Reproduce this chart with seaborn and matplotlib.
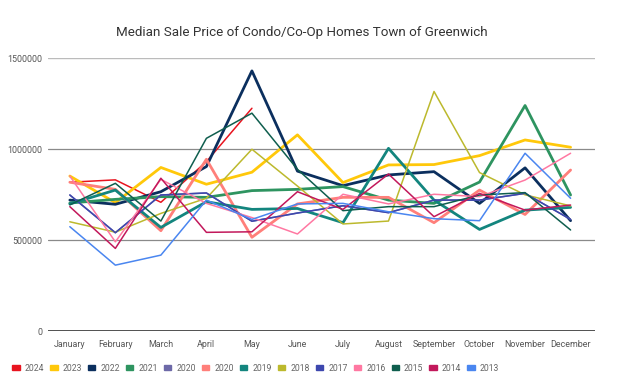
import pandas as pd
import matplotlib
matplotlib.use('Agg')
import matplotlib.pyplot as plt
import matplotlib.patches as mpatches
import seaborn as sns

# data
months = ['January', 'February', 'March', 'April', 'May', 'June', 'July',
          'August', 'September', 'October', 'November', 'December']

y2024 = [819000, 832000, 709000, 932000, 1225000]
y2023 = [853000, 707000, 900000, 808000, 874000, 1079000, 817000, 914000, 916000, 965000, 1051000, 1011000]
y2022 = [721000, 698000, 767000, 905000, 1430000, 880000, 800000, 859000, 877000, 703000, 898000, 608000]
y2021 = [705000, 725000, 740000, 736000, 773000, 780000, 795000, 721000, 703000, 820000, 1240000, 749000]
y2020a = [749000, 542000, 749000, 760000, 605000, 650000, 690000, 652000, 721000, 721000, 758000, 615000]
y2020b = [819000, 780000, 553000, 945000, 517000, 700000, 736000, 736000, 597000, 776000, 642000, 886000]
y2019 = [700000, 776000, 571000, 712000, 670000, 675000, 597000, 1005000, 721000, 560000, 666000, 681000]
y2018 = [602000, 545000, 648000, 731000, 1000000, 798000, 590000, 606000, 1317000, 872000, 750000, 689000]
y2017 = [749000, 542000, 749000, 760000, 605000, 650000, 690000, 652000, 721000, 721000, 758000, 615000]
y2016 = [853000, 492000, 835000, 703000, 625000, 535000, 753000, 700000, 753000, 740000, 831000, 978000]
y2015 = [695000, 813000, 606000, 1060000, 1198000, 890000, 663000, 685000, 685000, 749000, 762000, 557000]
y2014 = [685000, 456000, 841000, 544000, 547000, 767000, 670000, 864000, 630000, 758000, 666000, 694000]
y2013 = [575000, 364000, 419000, 721000, 615000, 700000, 703000, 657000, 619000, 608000, 978000, 731000]

labels = ['2024', '2023', '2022', '2021', '2020', '2020', '2019', '2018',
          '2017', '2016', '2015', '2014', '2013']
series = [y2024, y2023, y2022, y2021, y2020a, y2020b, y2019, y2018,
          y2017, y2016, y2015, y2014, y2013]
colors = ['#e8141f', '#ffc80a', '#0b2f5e', '#2e9460', '#6d69a8', '#ff7f7a',
          '#13857e', '#bcb92d', '#3d47ae', '#ff78a2', '#0f5e4e', '#c2185b', '#4a86f0']
widths = [1.1, 2.0, 2.0, 2.0, 1.1, 2.0, 2.0, 1.1, 1.1, 1.1, 1.1, 1.1, 1.1]

sns.set_style('white')
plt.rcParams['font.family'] = ['Roboto', 'DejaVu Sans']

fig = plt.figure(figsize=(6.28, 3.85), dpi=100)
ax = fig.add_axes([0.0764, 0.139, 0.8706, 0.71])

for i in range(len(series)):
    df = pd.DataFrame({'x': list(range(len(series[i]))), 'v': series[i]})
    sns.lineplot(data=df, x='x', y='v', ax=ax, color=colors[i], linewidth=widths[i],
                 label=labels[i], legend=False)

ax.set_xlim(-0.48, 11.53)
ax.set_ylim(0, 1500000)
ax.set_xticks(range(12))
ax.set_xticklabels(months)
ax.set_yticks([0, 500000, 1000000, 1500000])
ax.set_yticklabels(['0', '500000', '1000000', '1500000'])
ax.tick_params(axis='both', length=0, labelsize=6.4, labelcolor='#555555')
ax.tick_params(axis='x', pad=6)
ax.tick_params(axis='y', pad=4)
ax.set_xlabel('')
ax.set_ylabel('')
for s in ax.spines.values():
    s.set_visible(False)
ax.axhline(1500000, color='#bbbbbb', lw=1, zorder=0)
ax.axhline(1000000, color='#8a8a8a', lw=0.9, zorder=0)
ax.axhline(500000, color='#8a8a8a', lw=0.9, zorder=0)
ax.axhline(0, color='#333333', lw=1.2, zorder=5)

fig.text(0.481, 0.915, 'Median Sale Price of Condo/Co-Op Homes Town of Greenwich',
         ha='center', va='center', fontsize=9.6, color='#333333')

handles = [mpatches.Patch(color=c, label=l) for c, l in zip(colors, labels)]
fig.legend(handles=handles, loc='center left', bbox_to_anchor=(0.014, 0.044), ncol=13,
           frameon=False, fontsize=6.2, labelcolor='#666666', handlelength=0.85,
           handleheight=0.45, handletextpad=0.6, columnspacing=0.7, borderaxespad=0)

fig.savefig('out.png', dpi=100)
